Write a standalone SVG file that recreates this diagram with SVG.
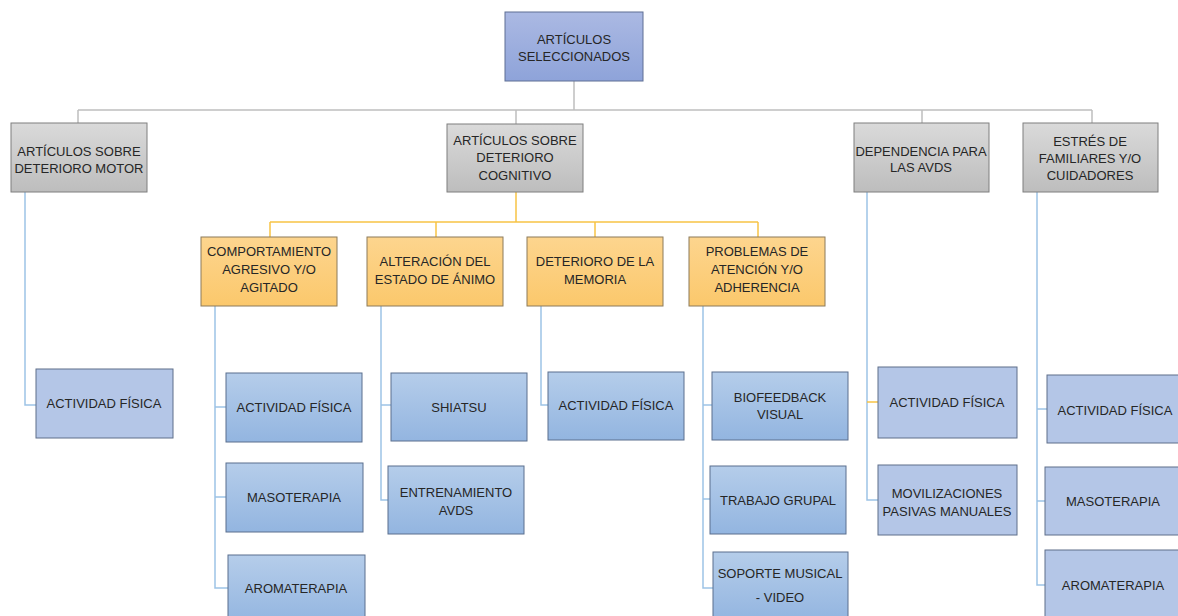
<svg xmlns="http://www.w3.org/2000/svg" width="1178" height="616" viewBox="0 0 1178 616">
<defs>
<linearGradient id="gTop" x1="0" y1="0" x2="0" y2="1"><stop offset="0" stop-color="#abb9e3"/><stop offset="1" stop-color="#8ea3d9"/></linearGradient>
<linearGradient id="gGray" x1="0" y1="0" x2="0" y2="1"><stop offset="0" stop-color="#dadada"/><stop offset="1" stop-color="#bdbdbd"/></linearGradient>
<linearGradient id="gOr" x1="0" y1="0" x2="0" y2="1"><stop offset="0" stop-color="#fdd58e"/><stop offset="1" stop-color="#fbc86c"/></linearGradient>
<linearGradient id="gBlue" x1="0" y1="0" x2="0" y2="1"><stop offset="0" stop-color="#b5cdea"/><stop offset="1" stop-color="#93b5e0"/></linearGradient>
</defs>
<style>
text{font-family:"Liberation Sans",Arial,sans-serif;font-size:13px;fill:#262626;text-anchor:middle}
.top{fill:url(#gTop);stroke:#5e6f94;stroke-width:1}
.gray{fill:url(#gGray);stroke:#7f7f7f;stroke-width:1}
.or{fill:url(#gOr);stroke:#8c7b5b;stroke-width:1}
.bl{fill:url(#gBlue);stroke:#5a6f8e;stroke-width:1}
.fl{fill:#b4c6e7;stroke:#5f6f8a;stroke-width:1}
.cg{stroke:#bfbfbf;stroke-width:1.5;fill:none}
.co{stroke:#f7c345;stroke-width:1.5;fill:none}
.cb{stroke:#9dc3e6;stroke-width:1.5;fill:none}
</style>
<g id="connectors">
<path class="cg" d="M574 81V110M78 110H1092M78 110V123M516 110V124M922 110V123M1092 110V123"/>
<path class="co" d="M516 192V222M270 222H758M270 222V237M436 222V237M595 222V237M758 222V237"/>
<path class="cb" d="M25 192V405H36"/>
<path class="cb" d="M215 306V588H228M215 407H226M215 497H226"/>
<path class="cb" d="M381 306V500H388M381 405H391"/>
<path class="cb" d="M541 306V405H548"/>
<path class="cb" d="M703 306V588H713M703 405H712M703 499H710"/>
<path class="cb" d="M867 192V500H878"/>
<path class="co" d="M867 402H878"/>
<path class="cb" d="M1037 192V585H1045M1037 409H1047M1037 501H1045"/>
</g>
<g id="n-root"><rect class="top" x="505" y="12" width="138" height="69"/><text x="574" y="44">ARTÍCULOS</text><text x="574" y="61">SELECCIONADOS</text></g>
<g id="n-motor"><rect class="gray" x="11" y="123" width="136" height="69"/><text x="79" y="156">ARTÍCULOS SOBRE</text><text x="79" y="173">DETERIORO MOTOR</text></g>
<g id="n-cog"><rect class="gray" x="447" y="124" width="136" height="68"/><text x="515" y="145">ARTÍCULOS SOBRE</text><text x="515" y="162">DETERIORO</text><text x="515" y="180">COGNITIVO</text></g>
<g id="n-dep"><rect class="gray" x="854" y="123" width="135" height="69"/><text x="921" y="156">DEPENDENCIA PARA</text><text x="921" y="172">LAS AVDS</text></g>
<g id="n-est"><rect class="gray" x="1023" y="123" width="135" height="69"/><text x="1090" y="146">ESTRÉS DE</text><text x="1090" y="163">FAMILIARES Y/O</text><text x="1090" y="180">CUIDADORES</text></g>
<g id="n-comp"><rect class="or" x="201" y="237" width="136" height="69"/><text x="269" y="256">COMPORTAMIENTO</text><text x="269" y="274">AGRESIVO Y/O</text><text x="269" y="292">AGITADO</text></g>
<g id="n-alt"><rect class="or" x="367" y="237" width="136" height="69"/><text x="435" y="266">ALTERACIÓN DEL</text><text x="435" y="284">ESTADO DE ÁNIMO</text></g>
<g id="n-mem"><rect class="or" x="527" y="237" width="136" height="69"/><text x="595" y="266">DETERIORO DE LA</text><text x="595" y="284">MEMORIA</text></g>
<g id="n-prob"><rect class="or" x="689" y="237" width="136" height="69"/><text x="757" y="256">PROBLEMAS DE</text><text x="757" y="274">ATENCIÓN Y/O</text><text x="757" y="292">ADHERENCIA</text></g>
<g id="l-motor-af"><rect class="fl" x="36" y="369" width="137" height="69"/><text x="104" y="408">ACTIVIDAD FÍSICA</text></g>
<g id="l-comp-af"><rect class="bl" x="226" y="373" width="136" height="69"/><text x="294" y="412">ACTIVIDAD FÍSICA</text></g>
<g id="l-comp-mas"><rect class="bl" x="226" y="463" width="137" height="69"/><text x="294" y="502">MASOTERAPIA</text></g>
<g id="l-comp-aro"><rect class="bl" x="228" y="555" width="137" height="69"/><text x="296" y="593">AROMATERAPIA</text></g>
<g id="l-alt-shi"><rect class="bl" x="391" y="373" width="136" height="68"/><text x="459" y="412">SHIATSU</text></g>
<g id="l-alt-ent"><rect class="bl" x="388" y="466" width="136" height="68"/><text x="456" y="497">ENTRENAMIENTO</text><text x="456" y="515">AVDS</text></g>
<g id="l-mem-af"><rect class="bl" x="548" y="372" width="136" height="68"/><text x="616" y="410">ACTIVIDAD FÍSICA</text></g>
<g id="l-prob-bio"><rect class="bl" x="712" y="372" width="136" height="68"/><text x="780" y="402">BIOFEEDBACK</text><text x="780" y="419">VISUAL</text></g>
<g id="l-prob-tra"><rect class="bl" x="710" y="466" width="136" height="68"/><text x="778" y="505">TRABAJO GRUPAL</text></g>
<g id="l-prob-sop"><rect class="bl" x="713" y="552" width="135" height="69"/><text x="780" y="578">SOPORTE MUSICAL</text><text x="780" y="602">- VIDEO</text></g>
<g id="l-dep-af"><rect class="fl" x="878" y="367" width="139" height="71"/><text x="947" y="407">ACTIVIDAD FÍSICA</text></g>
<g id="l-dep-mov"><rect class="fl" x="878" y="465" width="139" height="70"/><text x="947" y="498">MOVILIZACIONES</text><text x="947" y="516">PASIVAS MANUALES</text></g>
<g id="l-est-af"><rect class="fl" x="1047" y="375" width="136" height="68"/><text x="1115" y="415">ACTIVIDAD FÍSICA</text></g>
<g id="l-est-mas"><rect class="fl" x="1045" y="467" width="138" height="68"/><text x="1113" y="506">MASOTERAPIA</text></g>
<g id="l-est-aro"><rect class="fl" x="1045" y="550" width="138" height="70"/><text x="1113" y="590">AROMATERAPIA</text></g>
</svg>
